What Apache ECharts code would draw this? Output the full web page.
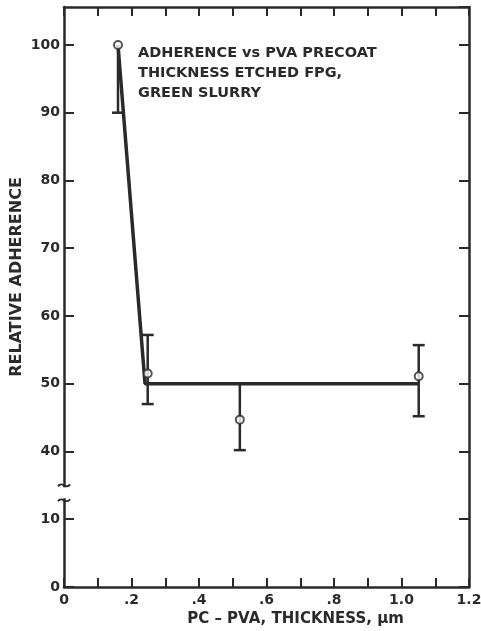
<!DOCTYPE html>
<html>
<head>
<meta charset="utf-8">
<script src="https://cdn.jsdelivr.net/npm/echarts@6/dist/echarts.min.js"></script>
<style>
  html, body { margin: 0; padding: 0; background: #ffffff; }
  #chart { width: 481px; height: 631px; }
</style>
</head>
<body>
<div id="chart"></div>
<script>
// Precoat thickness (µm) and relative adherence, with error-bar bounds
const thickness = [0.16, 0.248, 0.521, 1.051];
const adherence = [100, 51.5, 44.7, 51.1];
const errLow    = [90, 47.0, 40.2, 45.2];
const errHigh   = [100, 57.2, 50.0, 55.7];

// Trend line: steep drop, then flat
const fitX = [0.16, 0.24, 1.05];
const fitY = [100, 50, 50];

// Tick labels
const xTickLabels = ['0', '.2', '.4', '.6', '.8', '1.0', '1.2'];
const yTickLabels = [0, 10, 40, 50, 60, 70, 80, 90, 100];

const INK = '#2a2a2a';
const FONT = 'DejaVu Sans';

// Broken y axis: 0–10 sits on axis units 20–30, values from 40 up are unchanged.
function toAxis(v) { return v >= 40 ? v : 20 + v; }
function fromAxis(c) { return c >= 40 ? c : c - 20; }

const chart = echarts.init(document.getElementById('chart'), null, { renderer: 'canvas' });

const tickStyle = { color: INK, width: 2 };
const lineStyle = { color: INK, width: 2.5 };

chart.setOption({
  backgroundColor: '#ffffff',
  animation: false,
  title: {
    text: 'ADHERENCE vs PVA PRECOAT\nTHICKNESS ETCHED FPG,\nGREEN SLURRY',
    left: 133,
    top: 38,
    textStyle: { fontFamily: FONT, fontWeight: 'bold', fontSize: 14.5, color: INK, lineHeight: 20 }
  },
  grid: { left: 64, right: 12, top: 7, bottom: 44, outerBoundsMode: 'none', containLabel: false },
  xAxis: [
    {
      type: 'value', min: 0, max: 1.2, interval: 0.1, position: 'bottom',
      name: 'PC – PVA, THICKNESS, μm',
      nameLocation: 'middle', nameGap: 25,
      nameTextStyle: { fontFamily: FONT, fontWeight: 'bold', fontSize: 15, color: INK, padding: [0, 0, 0, 58] },
      axisLine: { show: true, onZero: false, lineStyle: lineStyle },
      axisTick: { show: true, inside: true, length: 9, lineStyle: tickStyle },
      splitLine: { show: false },
      axisLabel: {
        margin: 6, fontFamily: FONT, fontWeight: 'bold', fontSize: 14, color: INK,
        showMaxLabel: true, showMinLabel: true,
        formatter: function (v) {
          const k = Math.round(v * 10);
          return k % 2 === 0 ? xTickLabels[k / 2] : '';
        }
      }
    },
    {
      type: 'value', min: 0, max: 1.2, interval: 0.1, position: 'top',
      axisLine: { show: true, onZero: false, lineStyle: lineStyle },
      axisTick: { show: true, inside: true, length: 9, lineStyle: tickStyle },
      axisLabel: { show: false },
      splitLine: { show: false }
    }
  ],
  yAxis: [
    {
      type: 'value', min: 20, max: 105.6, interval: 10, position: 'left',
      name: 'RELATIVE ADHERENCE',
      nameLocation: 'middle', nameGap: 39, nameRotate: 90, nameMoveOverlap: false,
      nameTextStyle: { fontFamily: FONT, fontWeight: 'bold', fontSize: 16, color: INK, padding: [0, 0, 0, 40] },
      axisLine: { show: true, onZero: false, lineStyle: lineStyle },
      axisTick: { show: true, inside: true, length: 10, lineStyle: tickStyle },
      splitLine: { show: false },
      axisLabel: {
        margin: 4, fontFamily: FONT, fontWeight: 'bold', fontSize: 14, color: INK,
        showMaxLabel: false,
        formatter: function (c) {
          const v = Math.round(fromAxis(c));
          return yTickLabels.indexOf(v) >= 0 && Math.abs(c - Math.round(c)) < 1e-6 ? String(v) : '';
        }
      }
    },
    {
      type: 'value', min: 20, max: 105.6, interval: 10, position: 'right',
      axisLine: { show: true, onZero: false, lineStyle: lineStyle },
      axisTick: { show: true, inside: true, length: 10, lineStyle: tickStyle },
      axisLabel: { show: false },
      splitLine: { show: false }
    }
  ],
  series: [
    {
      name: 'trend',
      type: 'line',
      data: fitX.map((x, i) => [x, toAxis(fitY[i])]),
      symbol: 'none',
      lineStyle: { color: INK, width: 3.5 },
      z: 2
    },
    {
      name: 'error',
      type: 'custom',
      data: thickness.map((x, i) => [x, toAxis(errLow[i]), toAxis(errHigh[i]), toAxis(adherence[i])]),
      renderItem: function (params, api) {
        const x = api.value(0);
        const lo = api.coord([x, api.value(1)]);
        const hi = api.coord([x, api.value(2)]);
        const style = { stroke: INK, lineWidth: 2.5 };
        const half = 6;
        const children = [
          { type: 'line', shape: { x1: lo[0], y1: lo[1], x2: hi[0], y2: hi[1] }, style: style },
          { type: 'line', shape: { x1: lo[0] - half, y1: lo[1], x2: lo[0] + half, y2: lo[1] }, style: style }
        ];
        if (api.value(2) !== api.value(3)) {
          children.push({ type: 'line', shape: { x1: hi[0] - half, y1: hi[1], x2: hi[0] + half, y2: hi[1] }, style: style });
        }
        return { type: 'group', children: children };
      },
      z: 3
    },
    {
      name: 'adherence',
      type: 'scatter',
      data: thickness.map((x, i) => [x, toAxis(adherence[i])]),
      symbol: 'circle',
      symbolSize: 8,
      itemStyle: { color: '#ffffff', borderColor: INK, borderWidth: 2 },
      z: 4
    }
  ]
});

// Axis-break marks on the left axis, between the 10 and 40 ticks
const breakTop = 35.0, breakBottom = 32.8;
const pTop = chart.convertToPixel({ gridIndex: 0 }, [0, breakTop]);
const pBot = chart.convertToPixel({ gridIndex: 0 }, [0, breakBottom]);
function wave(p) {
  return {
    type: 'bezierCurve',
    shape: {
      x1: p[0] - 6, y1: p[1] + 1,
      cpx1: p[0] - 2, cpy1: p[1] - 5,
      cpx2: p[0] + 2, cpy2: p[1] + 5,
      x2: p[0] + 6, y2: p[1] - 1
    },
    style: { fill: null, stroke: INK, lineWidth: 2 },
    z: 101
  };
}
chart.setOption({
  graphic: [
    { type: 'rect', shape: { x: pTop[0] - 4, y: pTop[1] + 2, width: 8, height: pBot[1] - pTop[1] - 4 },
      style: { fill: '#ffffff' }, z: 100 },
    wave(pTop),
    wave(pBot)
  ]
});
</script>
</body>
</html>
